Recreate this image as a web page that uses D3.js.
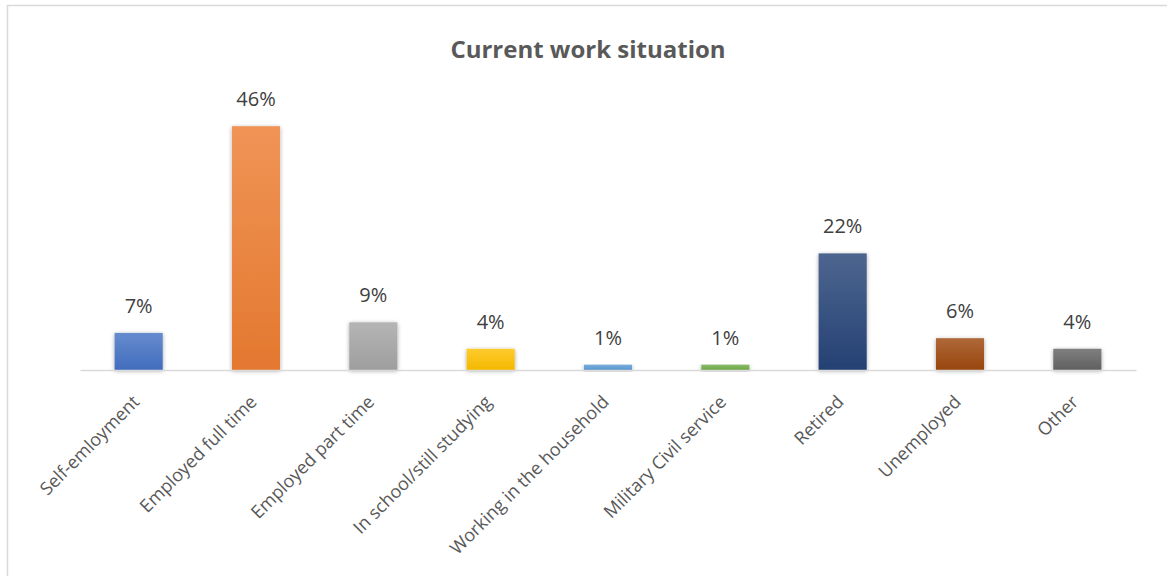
<!DOCTYPE html>
<html>
<head>
<meta charset="utf-8">
<script src="https://cdn.jsdelivr.net/npm/d3@7/dist/d3.min.js"></script>
<style>
  html, body { margin: 0; padding: 0; background: #fff; }
  svg { display: block; }
  text { font-family: "Open Sans", "Noto Sans", sans-serif; }
</style>
</head>
<body>
<svg id="chart" width="1167" height="576"></svg>
<script>
// Share of respondents by current work situation (percent)
const categories = [
  "Self-emloyment", "Employed full time", "Employed part time",
  "In school/still studying", "Working in the household",
  "Military Civil service", "Retired", "Unemployed", "Other"
];
const values = [7, 46, 9, 4, 1, 1, 22, 6, 4];
const barColors = [
  "#4472C4", "#ED7D31", "#A5A5A5", "#FFC000", "#5B9BD5",
  "#70AD47", "#264478", "#9E480E", "#636363"
];
const chartTitle = "Current work situation";

const width = 1167, height = 576;
const margin = { left: 80, right: 31, top: 105, baseline: 370 };

const svg = d3.select("#chart");

// outer chart frame
svg.append("rect")
  .attr("x", 7.5).attr("y", 5.5)
  .attr("width", width + 20).attr("height", height + 20)
  .attr("fill", "#fff").attr("stroke", "#d9d9d9").attr("stroke-width", 1.5);

const x = d3.scaleBand()
  .domain(categories)
  .range([margin.left, width - margin.right])
  .paddingInner(0.59)
  .paddingOuter(0.295);

const y = d3.scaleLinear()
  .domain([0, 50])
  .range([margin.baseline, margin.top]);

const defs = svg.append("defs");

// soft shadow under the bars
const shadow = defs.append("filter").attr("id", "barShadow")
  .attr("x", "-30%").attr("y", "-30%").attr("width", "160%").attr("height", "160%");
shadow.append("feGaussianBlur").attr("in", "SourceAlpha").attr("stdDeviation", 2.2).attr("result", "blur");
shadow.append("feOffset").attr("in", "blur").attr("dx", 0).attr("dy", 1).attr("result", "off");
shadow.append("feComponentTransfer").attr("in", "off").attr("result", "faint")
  .append("feFuncA").attr("type", "linear").attr("slope", 0.35);
const merge = shadow.append("feMerge");
merge.append("feMergeNode").attr("in", "faint");
merge.append("feMergeNode").attr("in", "SourceGraphic");

// light-to-full vertical gradient per bar colour
barColors.forEach((c, i) => {
  const g = defs.append("linearGradient").attr("id", "grad" + i)
    .attr("x1", 0).attr("y1", 0).attr("x2", 0).attr("y2", 1);
  g.append("stop").attr("offset", "0%").attr("stop-color", d3.interpolateRgb(c, "#fff")(0.18));
  g.append("stop").attr("offset", "100%").attr("stop-color", d3.color(c).darker(0.12));
});

// title
svg.append("text")
  .attr("x", 588).attr("y", 58)
  .attr("text-anchor", "middle")
  .attr("font-size", 24).attr("font-weight", 700)
  .attr("fill", "#595959")
  .text(chartTitle);

const data = categories.map((c, i) => ({ cat: c, val: values[i], i }));

// bars
svg.append("g").selectAll("rect")
  .data(data)
  .join("rect")
  .attr("x", d => x(d.cat))
  .attr("width", x.bandwidth())
  .attr("y", d => y(d.val))
  .attr("height", d => y(0) - y(d.val))
  .attr("fill", d => `url(#grad${d.i})`)
  .attr("filter", "url(#barShadow)");

// baseline axis
const xAxis = svg.append("g")
  .attr("transform", `translate(0,${y(0)})`)
  .call(d3.axisBottom(x).tickSize(0).tickSizeOuter(0));
xAxis.select(".domain").attr("stroke", "#d9d9d9").attr("stroke-width", 1.5);
xAxis.selectAll(".tick text")
  .attr("font-family", "\"Open Sans\", sans-serif")
  .attr("font-size", 18)
  .attr("fill", "#595959")
  .attr("text-anchor", "end")
  .attr("dy", null).attr("y", 0)
  .attr("transform", "translate(2,33) rotate(-45)");

// value labels
const fmt = d3.format(".0f");
svg.append("g").selectAll("text")
  .data(data)
  .join("text")
  .attr("x", d => x(d.cat) + x.bandwidth() / 2)
  .attr("y", d => y(d.val) - 20)
  .attr("text-anchor", "middle")
  .attr("font-size", 20)
  .attr("fill", "#404040")
  .text(d => fmt(d.val) + "%");
</script>
</body>
</html>
